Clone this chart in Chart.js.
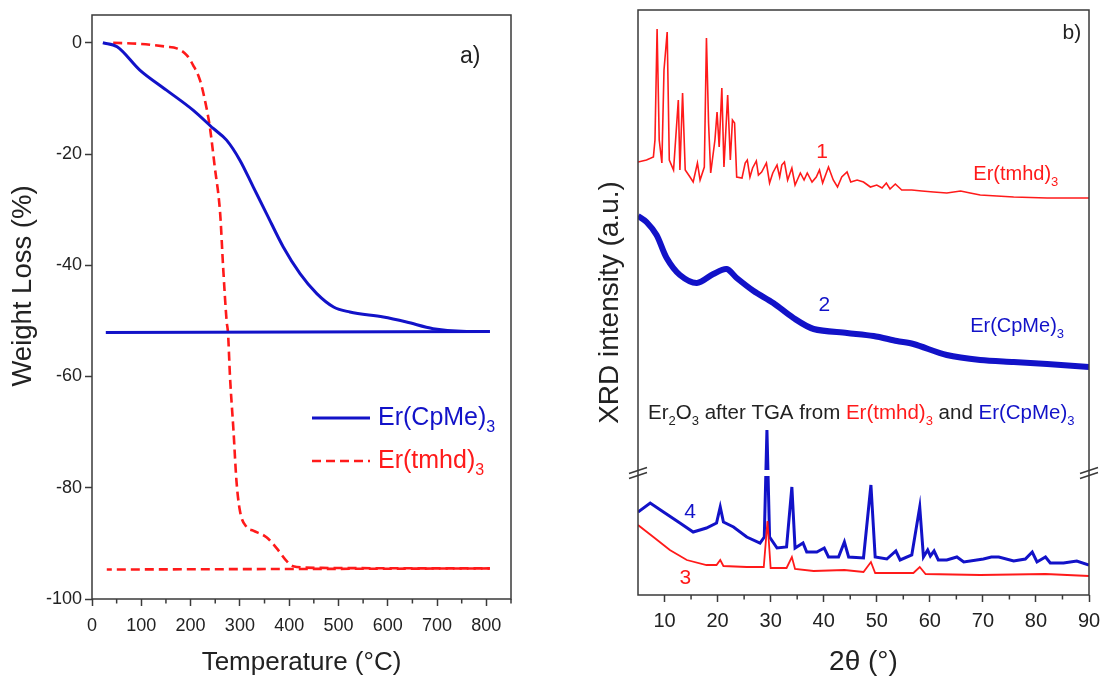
<!DOCTYPE html>
<html>
<head>
<meta charset="utf-8">
<script src="https://cdn.jsdelivr.net/npm/chart.js@4.4.1/dist/chart.umd.min.js"></script>
<style>
  html, body { margin: 0; padding: 0; background: #fff; }
  #wrap { position: relative; width: 1110px; height: 679px; }
  #tga { position: absolute; left: 0; top: 0; }
  #xrd { position: absolute; left: 560px; top: 0; }
</style>
</head>
<body>
<div id="wrap">
  <canvas id="tga" width="560" height="679"></canvas>
  <canvas id="xrd" width="550" height="679"></canvas>
</div>
<script>
// ---- a) TGA data (temperature in °C, weight loss in %) ----
const cpmeHeatT = [22, 51, 97, 151, 205, 246, 273, 300, 327, 354, 388, 422, 456, 490, 523, 591, 638, 692, 760, 807];
const cpmeHeatW = [0, -0.7, -4.9, -8.5, -12.1, -15.4, -17.5, -21.1, -25.9, -30.7, -36.7, -41.5, -45.1, -47.5, -48.4, -49.3, -50.2, -51.4, -51.9, -51.9];
const cpmeCoolT = [807, 28];
const cpmeCoolW = [-51.9, -52.1];

const tmhdHeatT = [43, 100, 151, 172, 192, 205, 219, 229, 239, 249, 260, 266, 273, 276, 280, 287, 293, 300, 314, 327, 354, 374, 395, 408, 456, 807];
const tmhdHeatW = [0, -0.2, -0.7, -1.0, -2.2, -4.0, -6.7, -10.3, -15.1, -22.3, -30.7, -40.3, -49.9, -52.3, -60.1, -69.7, -78.7, -84.1, -87.1, -87.7, -88.9, -90.8, -93.2, -94.1, -94.4, -94.5];
const tmhdCoolT = [807, 30];
const tmhdCoolW = [-94.5, -94.7];

const tempMinorTicks = [50, 150, 250, 350, 450, 550, 650, 750, 850];

// ---- b) XRD data (2θ in degrees, intensity in a.u., curves stacked) ----
const tmhdTheta = [5.0, 6.6, 7.9, 8.2, 8.6, 9.0, 9.5, 9.9, 10.5, 10.9, 11.7, 12.6, 12.9, 13.4, 13.9, 14.8, 15.4, 16.2, 16.7, 17.5, 17.9, 18.3, 18.7, 19.5, 19.9, 20.3, 20.8, 21.2, 21.9, 22.4, 22.8, 23.2,
  23.6, 24.6, 25.2, 25.6, 26.1, 26.6, 27.3, 27.7, 28.3, 29.2, 29.8, 30.4, 31.2, 31.7, 32.1, 32.6, 33.2, 34.0, 34.6, 35.6, 36.3, 36.9, 37.8, 38.6, 39.2, 39.8, 40.9, 41.8, 42.6, 43.4, 44.4, 45.1, 46.3, 47.5, 48.8, 50.0, 51.0, 51.8, 52.5, 53.5, 54.7, 56.6, 58.5, 60.7, 63.2, 65.8, 67.6, 69.5, 75.8, 82.1, 90.0];
const tmhdI = [433, 435, 438, 455, 566, 455, 432, 525, 563, 435, 425, 495, 425, 502, 425, 418, 413, 432, 415, 428, 557, 472, 422, 455, 483, 448, 507, 428, 500, 435, 475, 472,
  418, 417, 432, 435, 418, 427, 434, 420, 423, 432, 412, 422, 430, 418, 430, 433, 415, 427, 410, 422, 415, 422, 413, 418, 425, 412, 428, 415, 408, 418, 423, 413, 415, 413, 408, 410, 407, 412, 406, 411, 405, 405, 404, 403, 402, 404, 402, 400, 398, 397, 397];

const cpmeTheta = [5.0, 6.6, 8.5, 10.4, 12.9, 16.1, 19.2, 21.7, 23.6, 26.8, 30.5, 34.3, 38.1, 44.4, 49.4, 53.8, 56.9, 63.2, 69.5, 75.8, 82.1, 90.0];
const cpmeI = [379, 373, 360, 337, 320, 312, 321, 326, 317, 304, 292, 277, 266, 262, 259, 254, 251, 240, 235, 233, 231, 228];

const oxCpmeTheta = [5.0, 7.3, 9.8, 12.9, 15.4, 17.9, 19.8, 20.5, 21.1, 23.0, 25.5, 28.0, 28.8, 29.3, 29.8, 31.2, 33.0, 34.0, 34.6, 36.1, 36.8, 38.7, 40.1, 40.9, 42.8, 43.9, 44.7, 47.5, 48.9, 49.7, 51.9, 53.6, 54.4, 56.6, 58.1, 58.8, 59.6, 60.1, 60.8, 61.6, 63.2, 65.1, 66.4, 70.1, 71.6, 73.0, 75.8, 78.0, 79.3, 80.2, 81.8, 82.7, 85.2, 87.7, 90.0];
const oxCpmeI = [83, 92, 83, 72, 63, 67, 72, 88, 73, 68, 58, 52, 58, 165, 58, 47, 48, 108, 47, 52, 43, 43, 47, 38, 38, 53, 38, 37, 110, 38, 36, 44, 35, 40, 88, 38, 45, 39, 44, 35, 35, 38, 33, 36, 38, 38, 34, 36, 43, 33, 38, 32, 32, 34, 30];

const oxTmhdTheta = [5.0, 7.9, 11.0, 14.2, 17.9, 19.8, 20.5, 21.1, 25.5, 28.7, 29.4, 30.0, 33.0, 34.0, 34.6, 38.1, 43.9, 47.5, 48.9, 49.7, 56.9, 58.1, 59.2, 69.5, 81.8, 90.0];
const oxTmhdI = [70, 58, 45, 35, 30, 30, 35, 29, 28, 28, 74, 27, 27, 38, 26, 24, 25, 23, 33, 22, 22, 28, 21, 20, 21, 19];

const thetaMinorTicks = [15, 25, 35, 45, 55, 65, 75, 85];

const FONT = '"Liberation Sans", Arial, sans-serif';
const BLUE = "#1212c8";
const RED = "#ff1a1a";
const INK = "#222";
const FRAME = "#3a3a3a";

function toPoints(xs, ys) {
  return xs.map((x, i) => ({ x: x, y: ys[i] }));
}

// text with subscripts: parts = [[text, color, isSub], ...]
function drawParts(ctx, parts, x, y, size) {
  ctx.textBaseline = "middle";
  ctx.textAlign = "left";
  parts.forEach(([text, color, sub]) => {
    const s = sub ? Math.round(size * 0.64) : size;
    ctx.font = `${s}px ${FONT}`;
    ctx.fillStyle = color;
    ctx.fillText(text, x, sub ? y + size * 0.4 : y);
    x += ctx.measureText(text).width;
  });
}

function drawFrame(chart) {
  const { ctx, chartArea: a } = chart;
  ctx.save();
  ctx.strokeStyle = FRAME;
  ctx.lineWidth = 1.5;
  ctx.strokeRect(a.left, a.top, a.right - a.left, a.bottom - a.top);
  ctx.restore();
}

function drawMinor(chart, values) {
  const { ctx, chartArea: a } = chart;
  const xs = chart.scales.x;
  ctx.save();
  ctx.strokeStyle = FRAME;
  ctx.lineWidth = 1.5;
  values.forEach((v) => {
    const px = xs.getPixelForValue(v);
    ctx.beginPath();
    ctx.moveTo(px, a.bottom);
    ctx.lineTo(px, a.bottom + 4.5);
    ctx.stroke();
  });
  ctx.restore();
}

// Panel a) decorations: frame, minor ticks, legend, label, y title
const tgaDecor = {
  id: "tgaDecor",
  afterDraw(chart) {
    const { ctx } = chart;
    drawFrame(chart);
    drawMinor(chart, tempMinorTicks);

    ctx.save();
    // panel tag
    ctx.font = `23px ${FONT}`;
    ctx.fillStyle = INK;
    ctx.textBaseline = "middle";
    ctx.fillText("a)", 460, 57);

    // legend
    const lx0 = 312, lx1 = 370, tx = 378;
    ctx.lineWidth = 3;
    ctx.strokeStyle = BLUE;
    ctx.beginPath(); ctx.moveTo(lx0, 418); ctx.lineTo(lx1, 418); ctx.stroke();
    ctx.strokeStyle = RED;
    ctx.lineWidth = 2.6;
    ctx.setLineDash([9, 5]);
    ctx.beginPath(); ctx.moveTo(lx0, 461); ctx.lineTo(lx1, 461); ctx.stroke();
    ctx.setLineDash([]);
    drawParts(ctx, [["Er(CpMe)", BLUE], ["3", BLUE, true]], tx, 418, 25);
    drawParts(ctx, [["Er(tmhd)", RED], ["3", RED, true]], tx, 461, 25);

    // y title
    ctx.translate(23, 286);
    ctx.rotate(-Math.PI / 2);
    ctx.font = `27.5px ${FONT}`;
    ctx.fillStyle = INK;
    ctx.textAlign = "center";
    ctx.textBaseline = "middle";
    ctx.fillText("Weight Loss (%)", 0, 0);
    ctx.restore();
  },
};

// Panel b) decorations: frame, minor ticks, axis break, labels
const xrdDecor = {
  id: "xrdDecor",
  afterDatasetsDraw(chart) {
    const { ctx, chartArea: a } = chart;
    const yb = chart.scales.y.getPixelForValue(122);
    ctx.save();
    ctx.fillStyle = "#fff";
    ctx.fillRect(a.left + 1, yb - 3, a.right - a.left - 2, 6);
    ctx.restore();
  },
  afterDraw(chart) {
    const { ctx, chartArea: a } = chart;
    const xs = chart.scales.x;
    const ys = chart.scales.y;
    drawFrame(chart);
    drawMinor(chart, thetaMinorTicks);

    // axis break marks
    const yb = ys.getPixelForValue(122);
    ctx.save();
    ctx.strokeStyle = FRAME;
    ctx.lineWidth = 1.4;
    [a.left, a.right].forEach((bx) => {
      [-2.5, 2.5].forEach((dy) => {
        ctx.beginPath();
        ctx.moveTo(bx - 9, yb + dy + 3);
        ctx.lineTo(bx + 9, yb + dy - 3);
        ctx.stroke();
      });
    });

    const P = (x, y) => [xs.getPixelForValue(x), ys.getPixelForValue(y)];
    let p;
    ctx.font = `21px ${FONT}`;
    ctx.fillStyle = INK;
    ctx.textBaseline = "middle";
    p = P(85.0, 562); ctx.fillText("b)", p[0], p[1]);

    ctx.textAlign = "center";
    ctx.font = `21px ${FONT}`;
    ctx.fillStyle = RED;
    p = P(39.7, 443); ctx.fillText("1", p[0], p[1]);
    p = P(13.9, 17); ctx.fillText("3", p[0], p[1]);
    ctx.fillStyle = BLUE;
    p = P(40.1, 290); ctx.fillText("2", p[0], p[1]);
    p = P(14.8, 83); ctx.fillText("4", p[0], p[1]);

    p = P(68.2, 421);
    drawParts(ctx, [["Er(tmhd)", RED], ["3", RED, true]], p[0], p[1], 20);
    p = P(67.6, 269);
    drawParts(ctx, [["Er(CpMe)", BLUE], ["3", BLUE, true]], p[0], p[1], 20);

    p = P(6.9, 182);
    drawParts(ctx, [
      ["Er", INK], ["2", INK, true], ["O", INK], ["3", INK, true],
      [" after TGA from ", INK],
      ["Er(tmhd)", RED], ["3", RED, true],
      [" and ", INK],
      ["Er(CpMe)", BLUE], ["3", BLUE, true],
    ], p[0], p[1], 20.5);
    ctx.restore();
  },
};

new Chart(document.getElementById("tga"), {
  type: "line",
  data: {
    datasets: [
      {
        label: "Er(CpMe)3",
        data: toPoints(cpmeHeatT, cpmeHeatW),
        borderColor: BLUE,
        borderWidth: 3,
        pointRadius: 0,
        cubicInterpolationMode: "monotone",
      },
      {
        label: "Er(CpMe)3 cooling",
        data: toPoints(cpmeCoolT, cpmeCoolW),
        borderColor: BLUE,
        borderWidth: 3,
        pointRadius: 0,
      },
      {
        label: "Er(tmhd)3",
        data: toPoints(tmhdHeatT, tmhdHeatW),
        borderColor: RED,
        borderWidth: 2.6,
        borderDash: [9, 5],
        pointRadius: 0,
        cubicInterpolationMode: "monotone",
      },
      {
        label: "Er(tmhd)3 cooling",
        data: toPoints(tmhdCoolT, tmhdCoolW),
        borderColor: RED,
        borderWidth: 2.6,
        borderDash: [9, 5],
        pointRadius: 0,
      },
    ],
  },
  options: {
    responsive: false,
    animation: false,
    layout: { padding: { left: 0, right: 49, top: 15, bottom: 0 } },
    plugins: { legend: { display: false }, tooltip: { enabled: false } },
    scales: {
      x: {
        type: "linear",
        min: 0,
        max: 850,
        afterFit: (s) => { s.height = 80; },
        border: { display: false },
        grid: { drawOnChartArea: false, tickLength: 7, tickColor: FRAME, tickWidth: 1.5 },
        ticks: { stepSize: 100, includeBounds: false, autoSkip: false, maxRotation: 0, padding: 9, color: INK, font: { family: FONT, size: 18 } },
        title: { display: true, text: "Temperature (°C)", color: INK, font: { family: FONT, size: 26 }, padding: { top: 0, bottom: 1 } },
      },
      y: {
        min: -100,
        max: 5,
        afterFit: (s) => { s.width = 92; },
        border: { display: false },
        grid: { drawOnChartArea: false, tickLength: 7, tickColor: FRAME, tickWidth: 1.5 },
        ticks: { stepSize: 20, includeBounds: false, padding: 3, color: INK, font: { family: FONT, size: 18 } },
      },
    },
  },
  plugins: [tgaDecor],
});

new Chart(document.getElementById("xrd"), {
  type: "line",
  data: {
    datasets: [
      { label: "1 Er(tmhd)3", data: toPoints(tmhdTheta, tmhdI), borderColor: RED, borderWidth: 1.6, pointRadius: 0 },
      { label: "2 Er(CpMe)3", data: toPoints(cpmeTheta, cpmeI), borderColor: BLUE, borderWidth: 6, pointRadius: 0, tension: 0.3 },
      { label: "3 Er2O3 from Er(tmhd)3", data: toPoints(oxTmhdTheta, oxTmhdI), borderColor: RED, borderWidth: 1.8, pointRadius: 0 },
      { label: "4 Er2O3 from Er(CpMe)3", data: toPoints(oxCpmeTheta, oxCpmeI), borderColor: BLUE, borderWidth: 3, pointRadius: 0 },
    ],
  },
  options: {
    responsive: false,
    animation: false,
    layout: { padding: { left: 0, right: 21, top: 10, bottom: 0 } },
    plugins: { legend: { display: false }, tooltip: { enabled: false } },
    scales: {
      x: {
        type: "linear",
        min: 5,
        max: 90,
        afterFit: (s) => { s.height = 84; },
        border: { display: false },
        grid: { drawOnChartArea: false, tickLength: 7, tickColor: FRAME, tickWidth: 1.5 },
        ticks: { stepSize: 10, includeBounds: false, autoSkip: false, maxRotation: 0, padding: 7, color: INK, font: { family: FONT, size: 20 } },
        title: { display: true, text: "2θ (°)", color: INK, font: { family: FONT, size: 28 }, padding: { top: 0, bottom: 0 } },
      },
      y: {
        min: 0,
        max: 585,
        afterFit: (s) => { s.width = 78; },
        border: { display: false },
        grid: { display: false },
        ticks: { display: false },
        title: { display: true, text: "XRD intensity (a.u.)", color: INK, font: { family: FONT, size: 28 }, padding: { top: 33, bottom: 0 } },
      },
    },
  },
  plugins: [xrdDecor],
});
</script>
</body>
</html>
